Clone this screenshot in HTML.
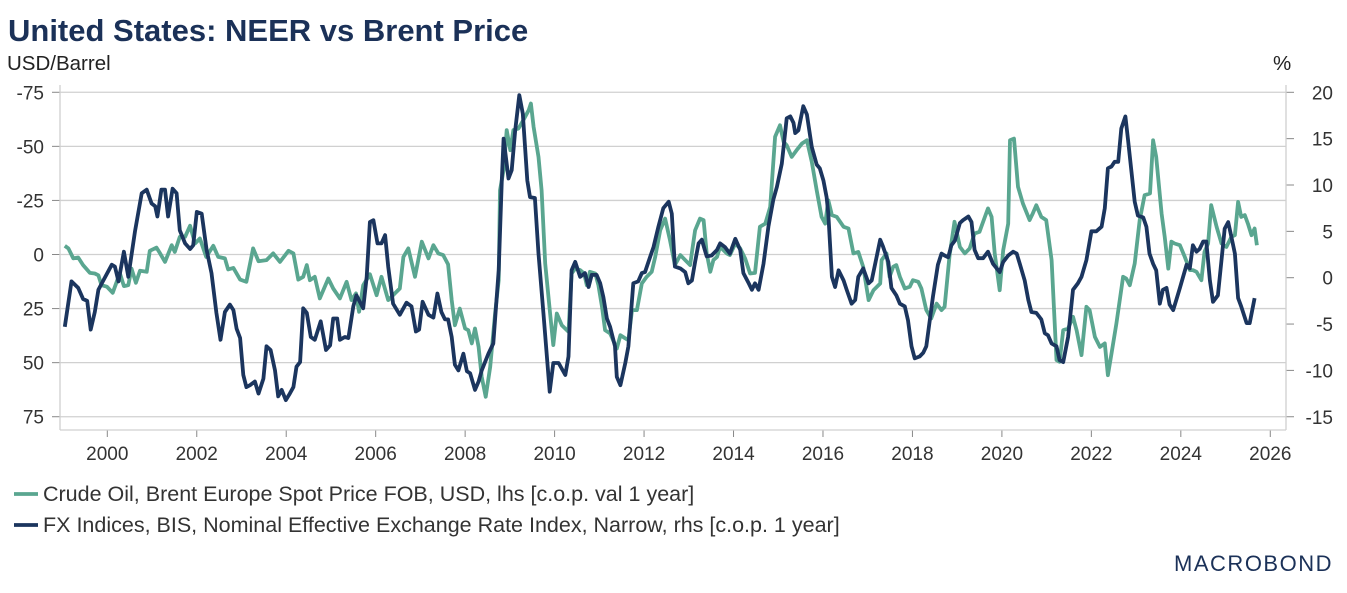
<!DOCTYPE html>
<html><head><meta charset="utf-8">
<style>
body{margin:0;background:#fff;width:1347px;height:593px;overflow:hidden;font-family:"Liberation Sans",Arial,sans-serif;}
svg{position:absolute;left:0;top:0}
</style></head>
<body>
<svg id="chart" width="1347" height="593"></svg>
<script>
const brentDates=[1999.05,1999.13,1999.24,1999.35,1999.46,1999.61,1999.72,1999.80,1999.87,1999.99,2000.12,2000.21,2000.28,2000.37,2000.47,2000.54,2000.64,2000.73,2000.88,2000.95,2001.10,2001.18,2001.29,2001.44,2001.51,2001.62,2001.74,2001.85,2001.96,2002.07,2002.21,2002.37,2002.48,2002.63,2002.70,2002.82,2002.97,2003.11,2003.26,2003.38,2003.56,2003.71,2003.86,2004.05,2004.16,2004.27,2004.38,2004.46,2004.53,2004.64,2004.75,2004.94,2005.05,2005.20,2005.35,2005.46,2005.56,2005.63,2005.72,2005.87,2006.02,2006.13,2006.28,2006.43,2006.54,2006.62,2006.73,2006.88,2007.03,2007.18,2007.29,2007.40,2007.51,2007.62,2007.70,2007.77,2007.88,
2008.00,2008.07,2008.15,2008.22,2008.30,2008.37,2008.46,2008.56,2008.67,2008.75,2008.78,2008.86,2008.93,2009.01,2009.08,2009.19,2009.30,2009.42,2009.47,2009.53,2009.64,2009.71,2009.79,2009.90,2009.97,2010.05,2010.16,2010.31,2010.38,2010.46,2010.57,2010.66,2010.72,2010.79,2010.91,2010.98,2011.06,2011.13,2011.24,2011.39,2011.47,2011.58,2011.65,2011.73,2011.84,2011.95,2012.06,2012.17,2012.25,2012.36,2012.47,2012.58,2012.69,2012.81,2012.96,2013.03,2013.14,2013.25,2013.33,2013.40,2013.48,2013.55,2013.63,2013.70,2013.85,2013.92,2014.04,2014.15,2014.26,2014.37,2014.48,2014.59,2014.71,2014.82,2014.93,2015.04,2015.12,2015.19,2015.30,2015.41,2015.53,2015.64,2015.75,2015.86,2015.97,2016.05,2016.12,2016.20,2016.31,2016.46,2016.57,2016.68,2016.79,2016.90,2017.02,2017.13,2017.28,
2017.31,2017.42,2017.49,2017.57,2017.64,2017.72,2017.83,2017.94,2018.01,2018.13,2018.20,2018.31,2018.42,2018.54,2018.65,2018.72,2018.83,2018.94,2019.06,2019.17,2019.28,2019.39,2019.50,2019.62,2019.69,2019.77,2019.84,2019.95,2020.03,2020.14,2020.18,2020.27,2020.36,2020.47,2020.62,2020.69,2020.77,2020.88,2020.99,2021.11,2021.22,2021.29,2021.37,2021.48,2021.59,2021.67,2021.78,2021.89,2021.96,2022.08,2022.19,2022.30,2022.37,2022.45,2022.56,2022.71,2022.78,2022.86,2022.97,2023.08,2023.19,2023.31,2023.38,2023.45,2023.57,2023.64,2023.72,2023.79,2023.86,2023.98,2024.09,2024.20,2024.27,2024.35,2024.46,2024.53,2024.61,2024.68,2024.80,2024.91,2025.02,2025.13,2025.21,2025.28,2025.35,2025.43,2025.50,2025.58,2025.65,2025.70];
const brentValues=[-4.0,-2.8,1.8,1.4,4.9,8.5,8.8,9.6,14.2,14.9,17.7,12.6,8.5,14.6,14.2,6.5,13.1,7.5,8.0,-1.7,-3.2,-0.5,3.4,-4.3,-1.2,-8.2,-8.2,-13.3,-5.1,-7.4,1.1,-4.0,1.1,1.8,6.9,6.2,11.6,12.6,-2.8,3.1,2.6,-0.5,3.4,-1.7,-0.5,11.6,10.3,4.9,11.9,10.3,20.3,11.1,15.7,20.3,12.6,21.1,18.0,26.5,14.2,9.1,18.8,10.3,21.1,18.0,15.7,1.1,-2.8,10.3,-5.9,1.8,-4.3,-0.5,0.3,4.6,21.1,32.7,25.0,
34.2,35.0,41.1,34.2,42.7,56.5,65.8,51.9,27.3,11.9,-29.7,-39.0,-57.5,-48.2,-57.5,-58.2,-62.1,-66.7,-69.8,-59.0,-45.1,-29.7,4.2,27.3,41.9,27.3,32.7,35.7,8.8,6.5,7.2,8.8,14.2,8.0,8.8,14.2,24.2,35.0,36.5,43.5,37.3,38.8,39.6,25.7,25.7,13.4,10.3,8.0,1.1,-11.2,-16.6,-6.6,4.9,0.3,3.4,4.9,-11.2,-16.6,-15.9,-0.5,8.0,2.6,1.1,-3.5,-0.5,0.3,-5.1,-2.8,1.8,8.8,8.5,-12.8,-14.3,-22.0,-54.4,-59.8,-52.1,-50.5,-45.1,-48.2,-51.3,-52.8,-42.8,-29.7,-17.4,-14.3,-25.1,-18.2,-17.4,-12.8,-12.0,-0.5,-1.2,5.7,21.1,16.5,13.4,
2.6,-0.5,10.3,5.7,4.9,10.3,15.7,14.9,11.9,12.6,15.7,25.7,29.6,22.7,25.7,24.2,0.3,-15.1,-3.5,-0.5,-2.8,-9.7,-10.5,-17.4,-21.3,-17.4,-0.5,16.5,-2.0,-14.3,-52.8,-53.6,-31.3,-23.6,-15.9,-19.0,-22.8,-17.4,-15.9,2.6,48.8,49.6,35.0,34.2,28.8,35.0,46.5,24.2,25.7,38.1,42.7,41.1,55.8,45.8,31.9,10.3,11.1,14.2,4.2,-15.9,-27.4,-28.2,-52.8,-45.1,-18.9,-8.2,6.5,-5.9,-5.1,-4.3,1.1,7.2,7.2,8.0,11.9,-1.2,-5.1,-22.8,-12.8,-5.1,-3.5,-8.2,-8.9,-24.3,-17.4,-18.2,-14.3,-8.9,-12.0,-4.3];
const neerDates=[1999.05,1999.20,1999.35,1999.46,1999.55,1999.63,1999.72,1999.80,1999.91,2000.10,2000.17,2000.25,2000.37,2000.47,2000.62,2000.77,2000.88,2000.99,2001.07,2001.12,2001.21,2001.29,2001.36,2001.46,2001.55,2001.62,2001.74,2001.85,2001.92,2002.00,2002.11,2002.22,2002.33,2002.44,2002.53,2002.63,2002.74,2002.82,2002.89,2002.97,2003.04,2003.11,2003.19,2003.30,2003.38,2003.49,2003.56,2003.65,2003.75,2003.82,2003.90,2003.99,2004.08,2004.16,2004.23,2004.31,2004.38,2004.46,2004.55,2004.64,2004.77,2004.89,2004.98,2005.05,2005.14,2005.20,2005.31,2005.39,2005.50,2005.57,2005.72,2005.80,2005.87,2005.95,2006.04,2006.13,2006.21,2006.28,2006.39,2006.54,2006.69,2006.80,2006.90,2006.97,2007.05,2007.18,2007.29,2007.38,2007.47,2007.55,2007.62,2007.70,2007.77,2007.85,
2007.96,2008.04,2008.11,2008.22,2008.30,2008.37,2008.52,2008.63,2008.75,2008.82,2008.86,2008.97,2009.04,2009.12,2009.21,2009.29,2009.39,2009.45,2009.56,2009.64,2009.75,2009.89,2009.97,2010.09,2010.24,2010.31,2010.38,2010.46,2010.57,2010.68,2010.76,2010.83,2010.94,2011.02,2011.09,2011.17,2011.24,2011.35,2011.39,2011.47,2011.58,2011.65,2011.76,2011.87,2011.95,2012.02,2012.14,2012.21,2012.32,2012.43,2012.55,2012.62,2012.69,2012.81,2012.92,2012.99,2013.07,2013.14,2013.22,2013.29,2013.40,2013.51,2013.63,2013.70,2013.81,2013.92,2014.04,2014.15,2014.22,2014.34,2014.41,2014.48,2014.56,2014.67,2014.78,2014.89,2014.97,2015.08,2015.19,2015.27,2015.34,2015.38,2015.45,2015.56,2015.64,2015.75,2015.86,2015.93,2016.01,2016.08,2016.12,2016.20,2016.27,2016.35,2016.46,2016.53,2016.64,2016.72,2016.79,2016.90,2017.02,2017.09,2017.28,
2017.34,2017.46,2017.53,2017.64,2017.72,2017.83,2017.90,2017.98,2018.05,2018.16,2018.24,2018.31,2018.39,2018.46,2018.57,2018.65,2018.72,2018.80,2018.87,2018.95,2019.06,2019.13,2019.25,2019.32,2019.39,2019.47,2019.58,2019.69,2019.80,2019.95,2020.03,2020.14,2020.25,2020.33,2020.40,2020.51,2020.59,2020.66,2020.77,2020.88,2020.96,2021.03,2021.11,2021.22,2021.29,2021.37,2021.48,2021.59,2021.70,2021.78,2021.89,2022.00,2022.11,2022.23,2022.30,2022.37,2022.45,2022.52,2022.60,2022.67,2022.76,2022.82,2022.90,2022.97,2023.04,2023.16,2023.23,2023.30,2023.38,2023.45,2023.53,2023.60,2023.68,2023.75,2023.83,2023.90,2023.98,2024.05,2024.13,2024.20,2024.27,2024.35,2024.42,2024.50,2024.57,2024.65,2024.72,2024.83,2024.91,2024.98,2025.06,2025.13,2025.21,2025.28,2025.35,2025.47,2025.54,2025.65];
const neerValues=[-5.3,-0.4,-1.1,-2.3,-2.5,-5.6,-3.7,-1.3,-0.3,1.4,1.2,-0.4,2.8,0.1,5.0,9.1,9.5,8.0,7.7,6.6,9.5,9.5,6.6,9.6,9.1,5.1,3.7,3.1,3.5,7.1,6.9,3.0,0.5,-3.8,-6.7,-3.7,-2.9,-3.5,-5.5,-6.5,-10.5,-11.8,-11.6,-11.2,-12.5,-10.9,-7.4,-7.8,-10.0,-12.8,-12.1,-13.2,-12.5,-11.8,-9.6,-9.1,-3.3,-3.8,-6.4,-6.7,-4.7,-7.8,-7.3,-4.4,-4.4,-6.7,-6.4,-6.5,-3.1,-1.9,-3.3,0.1,6.0,6.2,3.7,3.7,4.6,1.2,-2.8,-4.0,-2.7,-3.1,-5.8,-5.6,-2.6,-4.0,-4.3,-1.7,-3.7,-4.5,-4.5,-6.4,-9.4,-10.0,
-8.2,-10.1,-10.3,-12.1,-11.2,-10.0,-8.2,-7.1,0.8,10.5,15.0,10.7,11.6,15.9,19.7,17.7,10.5,8.7,8.6,2.6,-3.8,-12.3,-9.2,-9.2,-10.5,-8.5,0.8,1.7,0.1,0.5,-1.0,0.3,0.3,-0.6,-2.1,-4.4,-5.3,-7.4,-10.7,-11.6,-9.2,-7.4,-0.6,-0.4,0.5,0.6,2.3,3.3,5.5,7.5,8.2,6.9,1.2,1.0,0.6,-0.6,-0.3,1.7,3.7,4.1,2.3,2.4,3.0,3.7,3.3,2.6,4.2,3.0,0.5,-0.6,-1.3,-0.6,-1.3,1.5,5.5,8.4,9.8,12.3,17.2,17.4,16.7,15.6,15.9,18.5,17.6,14.1,12.2,11.8,10.5,8.7,6.9,0.1,-1.0,0.8,-0.3,-1.3,-2.8,-2.4,0.1,1.0,-0.6,-0.3,4.1,
3.4,1.7,-1.1,-1.9,-2.8,-3.1,-4.6,-7.4,-8.7,-8.5,-8.1,-7.4,-4.5,-2.0,1.4,2.6,2.4,2.2,3.5,4.0,5.9,6.2,6.6,6.0,3.0,2.1,2.1,2.8,1.5,0.6,1.7,2.4,2.8,2.6,1.5,-0.3,-2.4,-3.7,-3.8,-4.5,-6.0,-6.2,-7.1,-7.4,-8.9,-9.1,-6.4,-1.3,-0.6,0.1,1.9,5.0,5.0,5.5,7.5,11.8,12.0,12.5,12.5,16.1,17.4,14.9,11.3,8.2,6.7,6.5,5.5,2.6,1.5,0.8,-2.8,-1.3,-1.1,-2.9,-3.5,-2.4,-1.1,0.1,1.4,1.0,3.5,2.8,3.1,3.9,3.9,-0.3,-2.6,-1.9,1.9,5.3,6.0,4.4,2.6,-2.2,-3.1,-4.9,-4.9,-2.2];
const leftTicks=[-75,-50,-25,0,25,50,75];
const rightTicks=[20,15,10,5,0,-5,-10,-15];
const yearTicks=[2000,2002,2004,2006,2008,2010,2012,2014,2016,2018,2020,2022,2024,2026];

const NS='http://www.w3.org/2000/svg';
const svg=document.getElementById('chart');
const PL=60,PR=1286,PB=430;
const xS=t=>107.3+(t-2000)*44.73;
const yL=v=>254.5+v*2.163;
const yR=v=>92.3+(20-v)*9.27;
function mk(tag,attrs,parent){const e=document.createElementNS(NS,tag);for(const k in attrs)e.setAttribute(k,attrs[k]);(parent||svg).appendChild(e);return e;}
function txt(s,attrs){const e=mk('text',attrs);e.textContent=s;return e;}

let t=txt('United States: NEER vs Brent Price',{x:8,y:41,'font-size':31,'font-weight':'bold',fill:'#1b3158'});


t=txt('USD/Barrel',{x:7,y:70,'font-size':20.5,fill:'#222'});


t=txt('%',{x:1273,y:70,'font-size':20.5,fill:'#222'});



leftTicks.forEach(v=>{
  const y=yL(v);
  const g=mk('line',{x1:PL,x2:PR,y1:y,y2:y,stroke:'#d0d0d0','stroke-width':1.3});
  
  
  mk('line',{x1:52,x2:PL,y1:y,y2:y,stroke:'#888','stroke-width':1});
  const l=txt(String(v),{x:44,y:y+7,'font-size':19,fill:'#333','text-anchor':'end'});
  
  
});
rightTicks.forEach(v=>{
  const y=yR(v);
  mk('line',{x1:PR,x2:PR+8,y1:y,y2:y,stroke:'#888','stroke-width':1});
  const l=txt(String(v),{x:1333,y:y+7,'font-size':19,fill:'#333','text-anchor':'end'});
  
  
});
yearTicks.forEach(yr=>{
  const x=xS(yr);
  mk('line',{x1:x,x2:x,y1:PB,y2:PB+7,stroke:'#888','stroke-width':1});
  const l=txt(String(yr),{x:x,y:460,'font-size':19,fill:'#333','text-anchor':'middle'});
  
  
});
let a=mk('line',{x1:PL,x2:PL,y1:85,y2:PB,stroke:'#d0d0d0','stroke-width':1.3});


a=mk('line',{x1:PR,x2:PR,y1:85,y2:PB,stroke:'#d0d0d0','stroke-width':1.3});


a=mk('line',{x1:PL,x2:PR,y1:PB,y2:PB,stroke:'#d0d0d0','stroke-width':1.3});



function path(dates,vals,ys,color,name){
  const d=dates.map((dt,i)=>(i?'L':'M')+xS(dt).toFixed(1)+','+ys(vals[i]).toFixed(1)).join('');
  const p=mk('path',{d:d,fill:'none',stroke:color,'stroke-width':3.8,'stroke-linejoin':'round'});
  
  
}
path(brentDates,brentValues,yL,'#5aa690','brent-line');
path(neerDates,neerValues,yR,'#1b355e','neer-line');

function legend(y,color,label,name){
  const l=mk('line',{x1:14,x2:38,y1:y,y2:y,stroke:color,'stroke-width':3.8});
  
  
  const tt=txt(label,{x:43,y:y+7,'font-size':21.5,fill:'#333'});
  
  
}
legend(494,'#5aa690','Crude Oil, Brent Europe Spot Price FOB, USD, lhs [c.o.p. val 1 year]','legend-brent');
legend(525,'#1b355e','FX Indices, BIS, Nominal Effective Exchange Rate Index, Narrow, rhs [c.o.p. 1 year]','legend-neer');

t=txt('MACROBOND',{x:1333,y:571,'font-size':22,fill:'#1b3158','text-anchor':'end','letter-spacing':'1.5'});


</script>
</body></html>
